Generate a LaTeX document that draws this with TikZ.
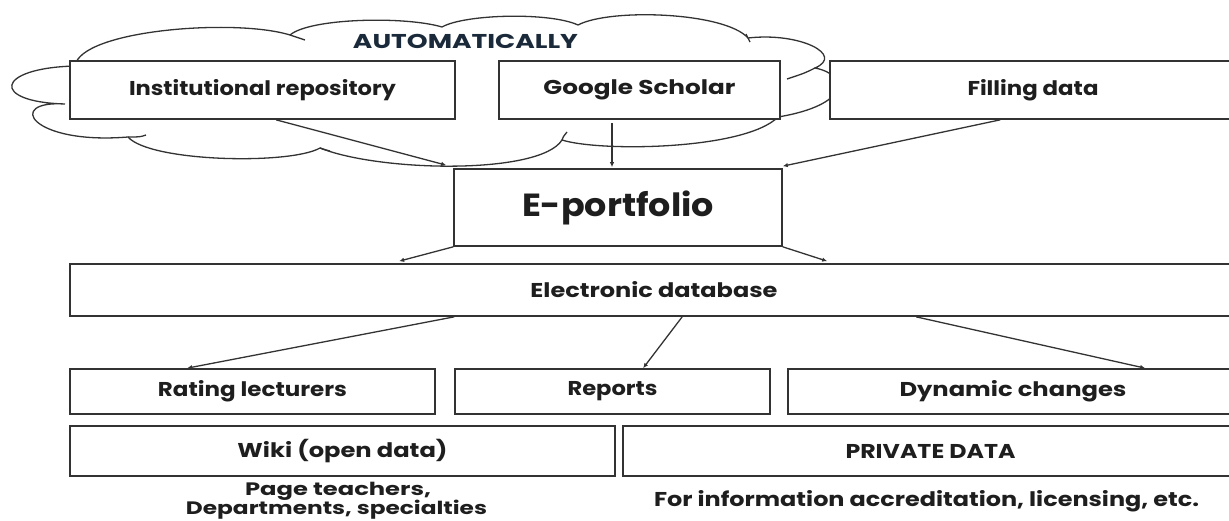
\documentclass[tikz,border=0pt]{standalone}
\usepackage{fontspec}
\setmainfont{Poppins}
\usetikzlibrary{arrows.meta,calc}
\definecolor{ink}{HTML}{333333}
\definecolor{txt}{HTML}{1E1E1E}
\definecolor{navy}{HTML}{1B2A3A}
\newcommand{\fw}[2]{\resizebox{#1pt}{\height}{#2}}
\begin{document}
\begin{tikzpicture}[x=1pt,y=-1pt,
  box/.style={draw=ink,line width=1.7pt,fill=white,inner sep=0pt,text=txt,
    font=\fontsize{20}{24}\selectfont\bfseries},
  lbl/.style={inner sep=0pt,anchor=base,text=txt,font=\fontsize{20}{24}\selectfont\bfseries},
  arr/.style={draw=ink,line width=1.3pt,-{Latex[length=5pt,width=4.5pt]}},
  cloudline/.style={draw=ink,line width=1.3pt}]
\useasboundingbox (0,0) rectangle (1229,520);
\clip (0,0) rectangle (1229,520);
% cloud
\path[cloudline,fill=white] (75,66) .. controls (80,30) and (235,18) .. (290,35)
  .. controls (310,18) and (405,16) .. (442,27)
  .. controls (465,14) and (550,12) .. (578,25)
  .. controls (610,8) and (725,12) .. (748,38)
  .. controls (800,32) and (845,55) .. (815,68)
  .. controls (850,75) and (850,105) .. (778,117)
  .. controls (745,150) and (600,152) .. (562,140)
  .. controls (540,175) and (380,172) .. (320,148)
  .. controls (290,165) and (150,162) .. (128,137)
  .. controls (30,145) and (5,100) .. (65,104)
  .. controls (-10,102) and (-5,68) .. (75,66) -- cycle;
\draw[cloudline] (290,35) .. controls (298,37) .. (305,40);
\draw[cloudline] (746,34) .. controls (748,38) .. (750,42);
\draw[cloudline] (815,68) .. controls (805,73) .. (787,79);
\draw[cloudline] (562,140) .. controls (563,137) .. (567,132);
\draw[cloudline] (330,151) .. controls (326,150) .. (320,148);
\draw[cloudline] (146,135) .. controls (140,137) .. (128,137);
\node[inner sep=0pt,text=navy,font=\fontsize{20}{24}\selectfont\bfseries] (auto) at (465.5,41) {\fw{225}{AUTOMATICALLY}};
% top row
\node[box,minimum width=385pt,minimum height=58pt] (inst) at (262.5,90) {\fw{267}{Institutional repository}};
\node[box,minimum width=281pt,minimum height=58pt] (google) at (639.5,90) {\fw{192}{Google Scholar}};
\node[box,minimum width=406pt,minimum height=58pt] (filling) at (1033,90) {\fw{131}{Filling data}};
% e-portfolio
\node[box,minimum width=328pt,minimum height=77pt,font=\fontsize{32}{36}\selectfont\bfseries] (eport) at (618,207.5) {\fw{192}{E-portfolio}};
% database
\node[box,minimum width=1168pt,minimum height=52pt] (db) at (654,290) {\fw{247}{Electronic database}};
% outputs
\node[box,minimum width=365pt,minimum height=45pt] (rating) at (252.5,391.5) {\fw{189}{Rating lecturers}};
\node[box,minimum width=315pt,minimum height=45pt] (reports) at (612.5,391.5) {\fw{90}{Reports}};
\node[box,minimum width=450pt,minimum height=45pt] (dynamic) at (1013,391.5) {\fw{227}{Dynamic changes}};
% data
\node[box,minimum width=545pt,minimum height=50pt] (wiki) at (342.5,451) {\fw{210}{Wiki (open data)}};
\node[box,minimum width=615pt,minimum height=50pt] (private) at (930.5,451) {\fw{170}{PRIVATE DATA}};
\node[lbl,font=\fontsize{18}{22}\selectfont\bfseries] (page) at (338,495) {\fw{186}{Page teachers,}};
\node[lbl,font=\fontsize{18}{22}\selectfont\bfseries] (dept) at (336.5,514.5) {\fw{301}{Departments, specialties}};
\node[lbl] (info) at (926.5,506.5) {\fw{545}{For information accreditation, licensing, etc.}};
% connectors
\draw[arr] ($(inst.south west)+(207,0)$) -- ($(eport.north west)+(-7,-3)$);
\draw[arr] ($(google.south)+(-27.5,3)$) -- ($(eport.north)+(-6,-1)$);
\draw[arr] ($(filling.south west)+(171,0)$) -- ($(eport.north east)+(0,-2)$);
\draw[arr] (eport.south west) -- ($(db.north west)+(330,-2)$);
\draw[arr] (eport.south east) -- ($(db.north west)+(758,-2)$);
\draw[arr] ($(db.south west)+(385,0)$) -- ($(rating.north west)+(118,0)$);
\draw[arr] ($(db.south west)+(613,0)$) -- ($(reports.north west)+(189,0)$);
\draw[arr] ($(db.south west)+(847,0)$) -- ($(dynamic.north west)+(358,0)$);
\end{tikzpicture}
\end{document}
